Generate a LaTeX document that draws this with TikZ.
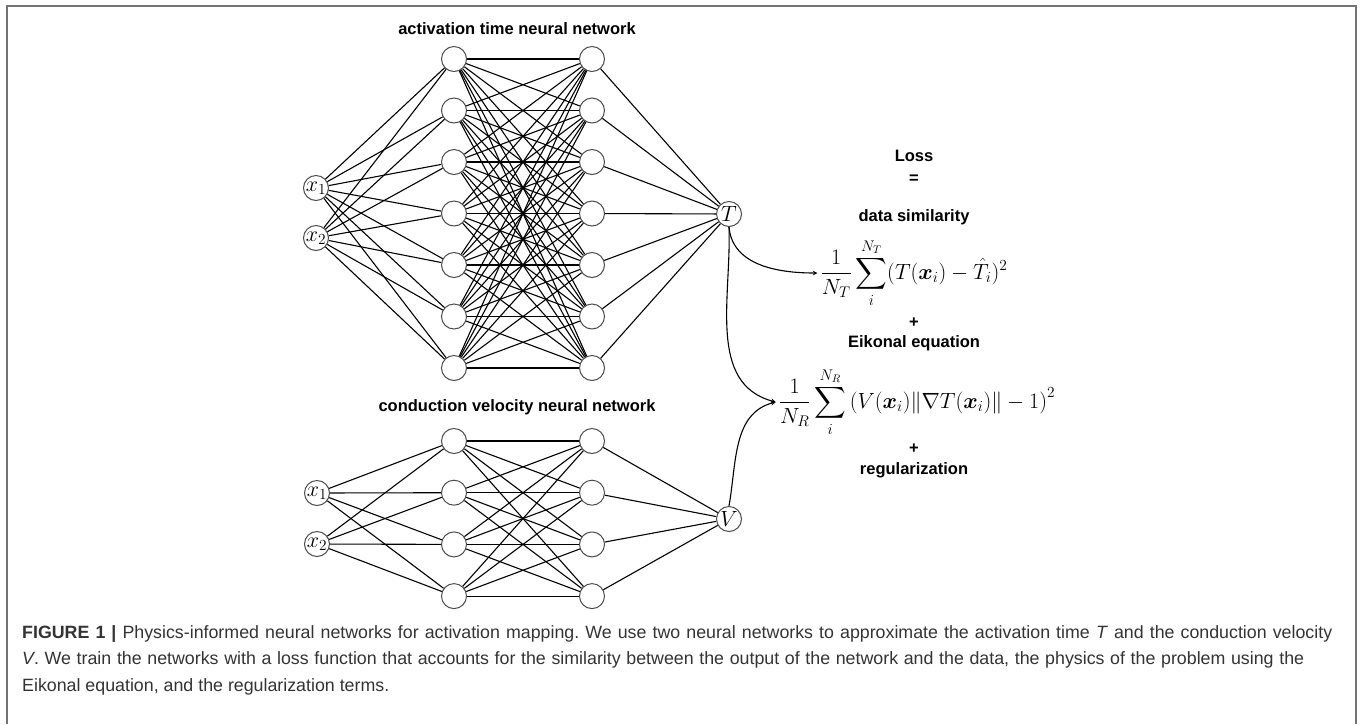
\documentclass[tikz,border=0pt]{standalone}
\usepackage{fix-cm}
\usepackage{amsmath,amssymb}
\usepackage{fontspec}
\setsansfont{Liberation Sans}
\usetikzlibrary{arrows}
\tikzset{>=stealth}

\begin{document}
\frenchspacing
\begin{tikzpicture}[x=1pt,y=-1pt,
    neuron/.style={circle,draw=black!70,fill=white,line width=1pt,minimum size=25pt,inner sep=0pt,font=\fontsize{22}{22}\selectfont},
    conn/.style={line width=1.1pt},
    title/.style={font=\sffamily\bfseries\fontsize{16.5}{18}\selectfont},
    loss/.style={font=\fontsize{22}{26}\selectfont,inner sep=3pt},
    captext/.style={anchor=base west,inner sep=0pt,text=black!80,font=\sffamily\fontsize{17.8}{20}\selectfont}]
    \useasboundingbox (0,0) rectangle (1363,724);
    \draw[black!55,line width=1.5pt] (7,724) -- (7,6) -- (1356,6) -- (1356,724);

    % activation time network
    \node[title] (at-title) at (517,29) {activation time neural network};
    \foreach \i/\y in {1/188,2/238}
        \node[neuron] (at-in\i) at (316,\y) {\makebox[0pt]{$x_\i$}};
    \foreach \k in {1,...,7} {
        \node[neuron] (at-a\k) at (454,{59+51.5*(\k-1)}) {};
        \node[neuron] (at-b\k) at (592,{59+51.5*(\k-1)}) {};
    }
    \node[neuron] (at-out) at (729,214) {\makebox[0pt]{$T$}};
    \foreach \k in {1,...,7} {
        \draw[conn] (at-in1) -- (at-a\k);
        \draw[conn] (at-in2) -- (at-a\k);
        \foreach \j in {1,...,7}
            \draw[conn] (at-a\k) -- (at-b\j);
        \draw[conn] (at-b\k) -- (at-out);
    }

    % conduction velocity network
    \node[title] (cv-title) at (517,407) {conduction velocity neural network};
    \foreach \i/\y in {1/493,2/544}
        \node[neuron] (cv-in\i) at (317,\y) {\makebox[0pt]{$x_\i$}};
    \foreach \k in {1,...,4} {
        \node[neuron] (cv-a\k) at (454,{441+51.7*(\k-1)}) {};
        \node[neuron] (cv-b\k) at (592,{441+51.7*(\k-1)}) {};
    }
    \node[neuron] (cv-out) at (729,519) {\makebox[0pt]{$V$}};
    \foreach \k in {1,...,4} {
        \draw[conn] (cv-in1) -- (cv-a\k);
        \draw[conn] (cv-in2) -- (cv-a\k);
        \foreach \j in {1,...,4}
            \draw[conn] (cv-a\k) -- (cv-b\j);
        \draw[conn] (cv-b\k) -- (cv-out);
    }

    % loss
    \node[title] (loss) at (914,156) {Loss};
    \node[title] (loss-eq) at (914,179) {=};
    \node[title] (data) at (914,217) {data similarity};
    \node[loss] (data-term) at (914,273) {$\displaystyle \frac{1}{N_T}\sum_{i}^{N_T}(T(\boldsymbol{x}_i)-\hat{T}_i)^2$};
    \node[title] (plus-a) at (914,323) {+};
    \node[title] (eik) at (914,343) {Eikonal equation};
    \node[loss] (eik-term) at (917,402) {$\displaystyle \frac{1}{N_R}\sum_{i}^{N_R}\left(V(\boldsymbol{x}_i)\|\nabla T(\boldsymbol{x}_i)\|-1\right)^2$};
    \node[title] (plus-b) at (914,449) {+};
    \node[title] (reg) at (914,470) {regularization};

    \path[->,conn]
    (at-out.south) edge [out=-85,in=180] (data-term.west)
    (at-out.south) edge [out=-88,in=165] (eik-term.west)
    (cv-out.north) edge [out=80,in=-165] (eik-term.west);

    % caption
    \node[captext] (cap-a) at (22,638) {\makebox[1310pt][s]{\textbf{FIGURE 1 |} Physics-informed neural networks for activation mapping. We use two neural networks to approximate the activation time \textit{T} and the conduction velocity}};
    \node[captext] (cap-b) at (22,664.5) {\makebox[1282pt][s]{\textit{V}. We train the networks with a loss function that accounts for the similarity between the output of the network and the data, the physics of the problem using the}};
    \node[captext] (cap-c) at (22,691) {Eikonal equation, and the regularization terms.};
\end{tikzpicture}
\end{document}
